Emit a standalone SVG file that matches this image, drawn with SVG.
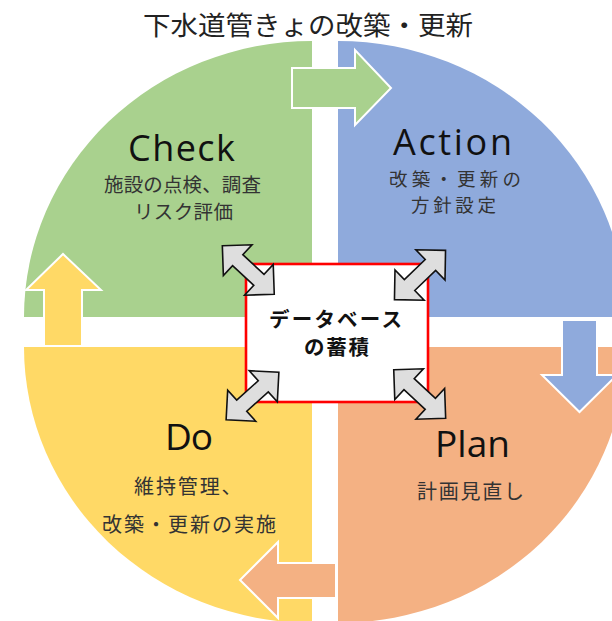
<svg xmlns="http://www.w3.org/2000/svg" width="612" height="621" viewBox="0 0 612 621">
<style>
.jp{font-family:"Noto Sans CJK JP","Noto Sans",sans-serif;fill:#333}
.lat{font-family:"Open Sans","Noto Sans","DejaVu Sans",sans-serif;fill:#111;font-size:37px}
.flow{stroke:#fff;stroke-width:2;stroke-linejoin:miter}
.dbl{fill:#DEDEDE;stroke:#111;stroke-width:1.6;stroke-linejoin:miter}
</style>
<defs>
<polygon id="dbl" points="-35.5,0 -14.5,-21 -14.5,-7.5 14.5,-7.5 14.5,-21 35.5,0 14.5,21 14.5,7.5 -14.5,7.5 -14.5,21"/>
</defs>
<rect width="612" height="621" fill="#fff"/>
<text x="143" y="35" class="jp" style="font-size:26px;fill:#222" textLength="330" lengthAdjust="spacingAndGlyphs">下水道管きょの改築・更新</text>

<g id="check">
<path d="M312,317 L24,317 A288,276 0 0 1 312,41 Z" fill="#A9D18E"/>
<text x="128" y="161" class="lat" style="font-size:36px" textLength="107">Check</text>
<text class="jp" style="font-size:19.5px"><tspan x="104" y="192" textLength="157">施設の点検、調査</tspan><tspan x="134" y="219" textLength="99">リスク評価</tspan></text>
</g>
<g id="action">
<path d="M338,317 L338,41 A288,276 0 0 1 626,317 Z" fill="#8FAADC"/>
<text x="393" y="155" class="lat" style="font-size:36px" textLength="119">Action</text>
<text class="jp" style="font-size:18.5px"><tspan x="389" y="186" textLength="132">改築・更新の</tspan><tspan x="411" y="212" textLength="85">方針設定</tspan></text>
</g>
<g id="plan">
<path d="M338,347 L626,347 A288,276 0 0 1 338,623 Z" fill="#F4B183"/>
<text x="435" y="457" class="lat" textLength="75">Plan</text>
<text x="417" y="499" class="jp" style="font-size:20px" textLength="107">計画見直し</text>
</g>
<g id="do">
<path d="M312,347 L312,623 A288,276 0 0 1 24,347 Z" fill="#FFD966"/>
<text x="165" y="450" class="lat" textLength="48">Do</text>
<text class="jp" style="font-size:20px"><tspan x="134" y="494" textLength="107.5">維持管理、</tspan><tspan x="102" y="532" textLength="174">改築・更新の実施</tspan></text>
</g>

<g id="connectors">
<polygon class="flow" fill="#A9D18E" points="292,68 355,68 355,50 391,88 355,125 355,108 292,108"/>
<polygon class="flow" fill="#8FAADC" points="562,320 597,320 597,375 617,375 579.5,412 542,375 562,375"/>
<polygon class="flow" fill="#F4B183" points="336,563 278,563 278,542 240,580 278,618 278,598 336,598"/>
<polygon class="flow" fill="#FFD966" points="44,346 44,290 26,290 63,254 101,290 82,290 82,346"/>
</g>

<g id="database">
<rect x="246" y="264" width="182" height="138" fill="#fff" stroke="#FF0000" stroke-width="2.6"/>
<text class="jp" style="font-size:20.5px;font-weight:bold;fill:#111"><tspan x="269" y="327" textLength="133">データベース</tspan><tspan x="304" y="354.5" textLength="65">の蓄積</tspan></text>
</g>

<g id="links">
<use href="#dbl" class="dbl" transform="translate(248.3,270) rotate(43)"/>
<use href="#dbl" class="dbl" transform="translate(420,275) rotate(-44)"/>
<use href="#dbl" class="dbl" transform="translate(252.5,396) rotate(-42)"/>
<use href="#dbl" class="dbl" transform="translate(419.7,394) rotate(43)"/>
</g>
</svg>
